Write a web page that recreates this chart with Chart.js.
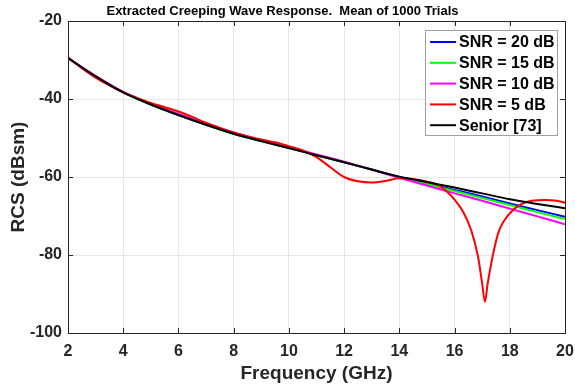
<!DOCTYPE html>
<html>
<head>
<meta charset="utf-8">
<script src="https://cdn.jsdelivr.net/npm/chart.js@4"></script>
<style>
  html, body { margin: 0; padding: 0; background: #fff; }
  canvas { display: block; }
</style>
</head>
<body>
<canvas id="chart" width="575" height="389"></canvas>
<script>
// frequency grid (GHz) for the smooth curves
const freq = [2, 3, 4, 5, 6, 7, 8, 9, 10, 11, 12, 13, 14, 15, 16, 17, 18, 19, 20];
const senior = [-29.5, -34.2, -38.3, -41.4, -44.1, -46.6, -48.9, -50.8, -52.6, -54.4, -56.2, -58.1, -59.9, -61.3, -62.7, -64.2, -65.7, -66.9, -68.0];
const snr20 = [-29.5, -34.2, -38.3, -41.4, -44.1, -46.6, -48.9, -50.8, -52.6, -54.4, -56.2, -58.1, -60.0, -61.6, -63.3, -65.0, -66.8, -68.5, -70.2];
const snr15 = [-29.5, -34.2, -38.3, -41.4, -44.1, -46.6, -48.9, -50.8, -52.6, -54.4, -56.2, -58.1, -60.1, -61.8, -63.6, -65.4, -67.2, -69.0, -70.8];
const snr10 = [-29.5, -34.1, -38.2, -41.2, -43.8, -46.3, -48.6, -50.5, -52.3, -54.2, -56.1, -58.1, -60.2, -62.2, -64.2, -66.1, -68.1, -70.1, -72.1];

// SNR = 5 dB needs a finer grid around the notch
const freq5 = [2, 2.5, 3, 3.5, 4, 4.5, 5, 5.5, 6, 6.5, 7, 7.5, 8, 8.5, 9, 9.5, 10, 10.5, 11, 11.5, 12, 12.5, 13, 13.5, 14, 14.5, 15, 15.4, 15.7, 16, 16.3, 16.6, 16.85, 17.0, 17.1, 17.2, 17.4, 17.6, 18, 18.4, 18.8, 19.3, 19.7, 20];
const snr5 = [-29.3, -32.1, -34.5, -36.5, -38.3, -39.7, -41.0, -42.1, -43.2, -44.6, -46.1, -47.4, -48.6, -49.6, -50.4, -51.1, -52.1, -53.2, -54.9, -57.5, -60.0, -61.1, -61.4, -61.0, -60.3, -60.5, -61.2, -62.0, -63.6, -65.8, -68.8, -73.6, -80.4, -87.3, -92.0, -87.3, -79.6, -74.0, -69.3, -67.0, -66.1, -65.9, -66.1, -66.6];

const xTicks = [2, 4, 6, 8, 10, 12, 14, 16, 18, 20];
const yTicks = [-100, -80, -60, -40, -20];

const FONT = '"Liberation Sans", Arial, Helvetica, sans-serif';

function pts(xs, ys) {
    return xs.map((x, i) => ({ x: x, y: ys[i] }));
}

function line(label, xs, ys, color, order) {
    return {
        label: label,
        data: pts(xs, ys),
        borderColor: color,
        backgroundColor: color,
        borderWidth: 2,
        pointRadius: 0,
        cubicInterpolationMode: 'monotone',
        fill: false,
        order: order
    };
}

// box round the axes, inward tick marks and the legend
const matlabAxes = {
    id: 'matlabAxes',
    afterDraw(chart) {
        const ctx = chart.ctx;
        const a = chart.chartArea;
        const xs = chart.scales.x, ys = chart.scales.y;
        ctx.save();
        ctx.strokeStyle = '#262626';
        ctx.lineWidth = 1;
        ctx.strokeRect(Math.round(a.left) + 0.5, Math.round(a.top) + 0.5,
            Math.round(a.right - a.left), Math.round(a.bottom - a.top));
        ctx.beginPath();
        xTicks.forEach(v => {
            const p = Math.round(xs.getPixelForValue(v)) + 0.5;
            ctx.moveTo(p, a.bottom); ctx.lineTo(p, a.bottom - 5);
            ctx.moveTo(p, a.top); ctx.lineTo(p, a.top + 5);
        });
        yTicks.forEach(v => {
            const p = Math.round(ys.getPixelForValue(v)) + 0.5;
            ctx.moveTo(a.left, p); ctx.lineTo(a.left + 5, p);
            ctx.moveTo(a.right, p); ctx.lineTo(a.right - 5, p);
        });
        ctx.stroke();

        // legend
        const lx = 425.5, ly = 30.5, lw = 132, lh = 105;
        ctx.fillStyle = '#fff';
        ctx.fillRect(lx, ly, lw, lh);
        ctx.strokeStyle = '#a0a0a0';
        ctx.strokeRect(lx, ly, lw, lh);
        ctx.font = 'bold 16px ' + FONT;
        ctx.textBaseline = 'middle';
        ctx.textAlign = 'left';
        chart.data.datasets.forEach((ds, i) => {
            const y = 42 + i * 20.8;
            ctx.strokeStyle = ds.borderColor;
            ctx.lineWidth = 2;
            ctx.beginPath();
            ctx.moveTo(430, y); ctx.lineTo(456, y);
            ctx.stroke();
            ctx.fillStyle = '#000';
            ctx.fillText(ds.label, 459, y + 1);
        });
        ctx.restore();
    }
};

new Chart(document.getElementById('chart'), {
    type: 'line',
    data: {
        datasets: [
            line('SNR = 20 dB', freq, snr20, '#0000ff', 4),
            line('SNR = 15 dB', freq, snr15, '#00ff00', 3),
            line('SNR = 10 dB', freq, snr10, '#ff00ff', 2),
            line('SNR = 5 dB', freq5, snr5, '#ff0000', 1),
            line('Senior [73]', freq, senior, '#000000', 0)
        ]
    },
    options: {
        responsive: false,
        animation: false,
        layout: { padding: { left: 0, right: 10, top: 0, bottom: 0 } },
        plugins: {
            legend: { display: false },
            tooltip: { enabled: false },
            title: {
                display: true,
                text: 'Extracted Creeping Wave Response.  Mean of 1000 Trials',
                color: '#000',
                font: { family: FONT, size: 13, weight: 'bold' },
                padding: { top: 4, bottom: 1.4 }
            }
        },
        scales: {
            x: {
                type: 'linear',
                min: 2,
                max: 20,
                afterFit: s => { s.height = 56; s.paddingLeft = 0; s.paddingRight = 0; },
                afterBuildTicks: s => { s.ticks = xTicks.map(v => ({ value: v })); },
                ticks: {
                    color: '#262626',
                    padding: 9,
                    maxRotation: 0,
                    font: { family: FONT, size: 16, weight: 'bold' }
                },
                grid: { color: '#e6e6e6', drawTicks: false },
                border: { display: true, color: '#262626' },
                title: {
                    display: true,
                    text: 'Frequency (GHz)',
                    color: '#262626',
                    font: { family: FONT, size: 19, weight: 'bold' },
                    padding: { top: 0, bottom: 4 }
                }
            },
            y: {
                min: -100,
                max: -20,
                afterFit: s => { s.width = 68; },
                afterBuildTicks: s => { s.ticks = yTicks.map(v => ({ value: v })); },
                ticks: {
                    color: '#262626',
                    padding: 6,
                    font: { family: FONT, size: 16, weight: 'bold' }
                },
                grid: { color: '#e6e6e6', drawTicks: false },
                border: { display: true, color: '#262626' },
                title: {
                    display: true,
                    text: 'RCS (dBsm)',
                    color: '#262626',
                    font: { family: FONT, size: 19, weight: 'bold' },
                    padding: { top: 7, bottom: 0 }
                }
            }
        }
    },
    plugins: [matlabAxes]
});
</script>
</body>
</html>
